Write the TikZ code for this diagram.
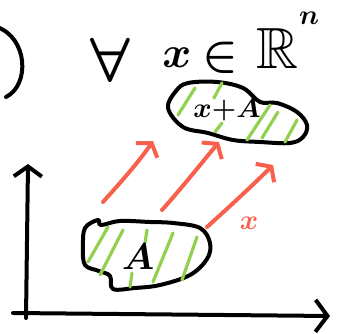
\documentclass[tikz,border=0pt]{standalone}
\usepackage{amsmath}
\usepackage{amsfonts, amssymb}
\usetikzlibrary{arrows.meta}
\definecolor{shiftred}{HTML}{F8604C}
\definecolor{hatchgreen}{HTML}{92D050}

\begin{document}
\begin{tikzpicture}[x=1pt, y=-1pt, line cap=round, line join=round,
    ink/.style={black, line width=4pt},
    hatch/.style={hatchgreen, line width=3.2pt},
    shiftarrow/.style={shiftred, line width=4pt, -{Straight Barb[length=9pt, width=26pt]}},
    bigmath/.style={inner sep=0pt, scale=2.5, font=\huge\boldmath},
    midmath/.style={inner sep=0pt, scale=1.8, font=\huge\boldmath},
    smallmath/.style={inner sep=0pt, scale=1.35, font=\huge\boldmath}]
    \useasboundingbox (0,0) rectangle (341,334);

    % quantifier line
    \draw[ink] (-3,27) .. controls (28,38) and (30,85) .. (6,97);
    \node[bigmath, scale=1.2] (forall) at (110,60) {$\forall$};
    \node[bigmath, scale=0.85] (xvar) at (177,58) {$x$};
    \node[bigmath, scale=0.9] (elem) at (220,58) {$\in$};
    \node[bigmath, scale=1.12] (reals) at (277,48) {$\mathbb{R}$};
    \node[smallmath] (dim) at (309,18) {$n$};

    % axes
    \coordinate (origin) at (26,314);
    \coordinate (ytop) at (28,164);
    \coordinate (xend) at (330,316);
    \draw[ink, -{Straight Barb[length=10pt, width=28pt]}] (26,318) -- (ytop);
    \draw[ink, -{Straight Barb[length=12pt, width=32pt]}] (13,313) -- (xend);

    % set A
    \draw[ink] plot[smooth cycle, tension=0.6] coordinates {
      (85,228) (98,220) (101,225) (120,221) (150,222) (173,223) (200,228)
      (210,243) (207,259) (190,275) (160,285) (135,288) (113,289)
      (110,276) (99,271) (85,265) (83,247)};
    \foreach \a/\b in {{(88,262)}/{(108,227)}, {(100,275)}/{(123,230)},
                       {(130,287)}/{(132,273)}, {(145,243)}/{(147,230)},
                       {(153,282)}/{(173,233)}, {(182,280)}/{(197,237)}} {
      \draw[hatch] \a -- \b;
    }
    \node[midmath] (setA) at (138,257) {$A$};

    % translated set x+A
    \draw[ink] plot[smooth cycle, tension=0.6] coordinates {
      (168,108) (176,91) (188,83) (217,82) (243,88) (260,102) (277,103)
      (297,112) (307,125) (303,137) (290,143) (260,142) (233,140)
      (208,133) (183,127)};
    \foreach \a/\b in {{(178,115)}/{(195,88)}, {(214,98)}/{(222,83)},
                       {(215,132)}/{(222,123)}, {(247,140)}/{(270,105)},
                       {(262,138)}/{(278,112)}, {(285,142)}/{(297,120)}} {
      \draw[hatch] \a -- \b;
    }
    \node[smallmath] (setxA) at (227,110) {$x{+}A$};

    % shifts
    \draw[shiftarrow] (103,202) .. controls (120,183) and (138,163) .. (153,141);
    \draw[shiftarrow] (162,210) .. controls (180,190) and (200,165) .. (219,142);
    \draw[shiftarrow] (207,227) .. controls (228,208) and (252,186) .. (273,165);
    \node[smallmath, text=shiftred] (shiftx) at (249,223) {$x$};
  \end{tikzpicture}
\end{document}
